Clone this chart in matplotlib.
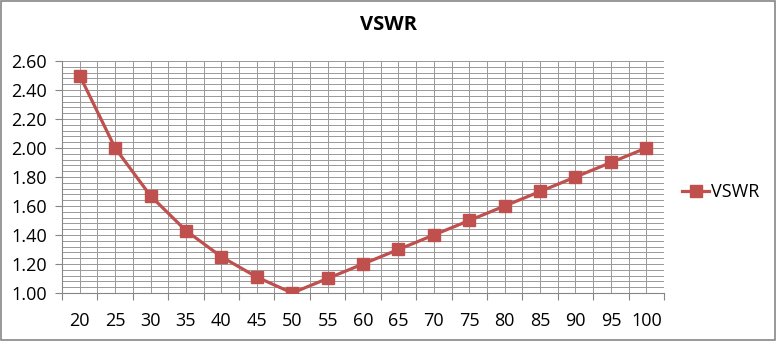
import matplotlib.pyplot as plt
import numpy as np
from matplotlib.patches import Rectangle

impedancias = [20, 25, 30, 35, 40, 45, 50, 55, 60, 65, 70, 75, 80, 85, 90, 95, 100]
vswr = [2.50, 2.00, 1.67, 1.43, 1.25, 1.11, 1.00, 1.10, 1.20, 1.30, 1.40,
        1.50, 1.60, 1.70, 1.80, 1.90, 2.00]

plt.rcParams['font.family'] = ['Open Sans', 'DejaVu Sans']

fig = plt.figure(figsize=(7.77, 3.41), dpi=100)
ax = fig.add_axes([0.0798, 0.1408, 0.7748, 0.6803])

x = np.arange(len(impedancias))
ax.plot(x, vswr, color='#C0504D', linewidth=2.3, marker='s', markersize=8,
        label='VSWR', zorder=3)

ax.set_xlim(-0.5, len(impedancias) - 0.5)
ax.set_ylim(1.0, 2.6)

# eje x: marcas en los bordes de categoria, etiquetas en el centro
ax.set_xticks(np.arange(len(impedancias) + 1) - 0.5)
ax.set_xticklabels([])
ax.set_xticks(x, minor=True)
ax.set_xticklabels([str(v) for v in impedancias], minor=True)
ax.tick_params(axis='x', which='major', length=5, color='#868686', direction='out')
ax.tick_params(axis='x', which='minor', length=0, pad=14, labelsize=13)

ax.set_yticks(np.arange(1.0, 2.61, 0.2))
ax.set_yticklabels([f'{v:.2f}' for v in np.arange(1.0, 2.61, 0.2)])
ax.set_yticks(np.arange(1.0, 2.6, 0.04), minor=True)
ax.tick_params(axis='y', which='major', length=5, color='#868686', labelsize=13, pad=6)
ax.tick_params(axis='y', which='minor', length=0)

ax.grid(True, which='both', color='#999999', linewidth=0.7)
ax.set_axisbelow(True)
for s in ['top', 'right']:
    ax.spines[s].set_visible(False)
for s in ['left', 'bottom']:
    ax.spines[s].set_color('#868686')

fig.text(0.4994, 0.9267, 'VSWR', ha='center', va='center', fontsize=14.5,
         fontweight='bold')

fig.legend(*ax.get_legend_handles_labels(), loc='center left',
           bbox_to_anchor=(0.878, 0.437), frameon=False, borderpad=0,
           borderaxespad=0, fontsize=13, handlelength=1.5, handletextpad=0.1)

fig.patches.append(Rectangle((0.001, 0.002), 0.997, 0.995, transform=fig.transFigure,
                             fill=False, edgecolor='#868686', linewidth=1.2))

fig.savefig('out.png', dpi=100)
